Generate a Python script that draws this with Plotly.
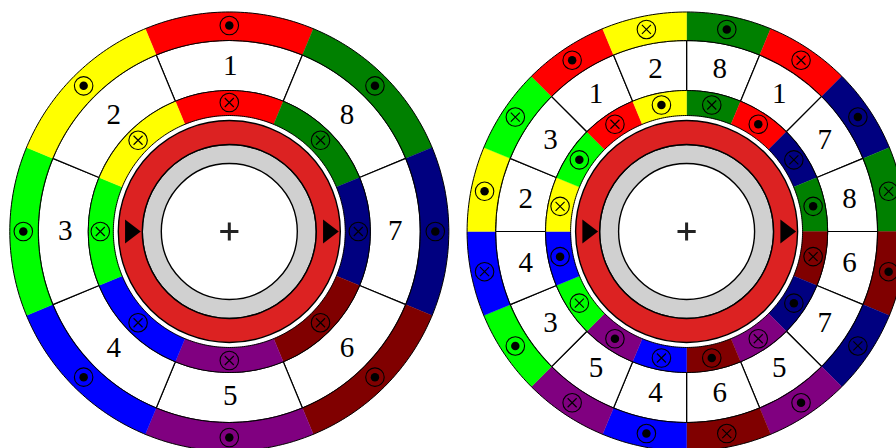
import numpy as np
import plotly.graph_objects as go

COLORS = {"R": "#ff0000", "G": "#008000", "N": "#000080", "M": "#800000",
          "P": "#800080", "B": "#0000ff", "L": "#00ff00", "Y": "#ffff00"}

# clockwise starting at the top
left_labels = ["1", "8", "7", "6", "5", "4", "3", "2"]
left_phases = ["R", "G", "N", "M", "P", "B", "L", "Y"]
left_outer_dirs = ["dot"] * 8
left_inner_dirs = ["x"] * 8

right_labels = ["8", "1", "7", "8", "6", "7", "5", "6", "4", "5", "3", "4", "2", "3", "1", "2"]
right_phases = ["G", "R", "N", "G", "M", "N", "P", "M", "B", "P", "L", "B", "Y", "L", "R", "Y"]
right_outer_dirs = ["dot", "x"] * 8
right_inner_dirs = ["x", "dot"] * 8

W, H = 920, 460
R_MAX = 221
R_OUT, R_SLOT_OUT, R_IN, R_IN_BOT = 219.5, 191, 141, 116
R_ST_OUT, R_ST_IN, R_GR_IN = 111, 87, 68
R_COND_OUT, R_COND_IN, R_LABEL = 206, 129, 165
R_TRI = 99


def wheel(fig, sub, text_sub, labels, phases, outer_dirs, inner_dirs, first_center):
    n = len(labels)
    step = 360 / n
    th = [(first_center - i * step) % 360 for i in range(n)]
    cols = [COLORS[p] for p in phases]
    # rotor and stator rings
    fig.add_trace(go.Barpolar(theta=[0], width=[360], base=[R_GR_IN], r=[R_ST_IN - R_GR_IN],
                              marker=dict(color="#d0d0d0", line=dict(color="black", width=1.4)), subplot=sub))
    fig.add_trace(go.Barpolar(theta=[0], width=[360], base=[R_ST_IN], r=[R_ST_OUT - R_ST_IN],
                              marker=dict(color="#dc2222", line=dict(color="black", width=1.4)), subplot=sub))
    # white slots with spokes
    fig.add_trace(go.Barpolar(theta=th, width=[step] * n, base=[R_IN] * n, r=[R_SLOT_OUT - R_IN] * n,
                              marker=dict(color="white", line=dict(color="black", width=1.2)), subplot=sub))
    # coils
    fig.add_trace(go.Barpolar(theta=th, width=[step] * n, base=[R_SLOT_OUT] * n, r=[R_OUT - R_SLOT_OUT] * n,
                              marker=dict(color=cols, line=dict(color=cols, width=0.3)), subplot=sub))
    fig.add_trace(go.Barpolar(theta=th, width=[step] * n, base=[R_IN_BOT] * n, r=[R_IN - R_IN_BOT] * n,
                              marker=dict(color=cols, line=dict(color=cols, width=0.3)), subplot=sub))
    # outlines
    circ = np.linspace(0, 360, 361)
    for r in (R_OUT, R_SLOT_OUT, R_IN, R_IN_BOT):
        fig.add_trace(go.Scatterpolar(r=[r] * len(circ), theta=circ, mode="lines",
                                      line=dict(color="black", width=1), subplot=sub))
    # conductors
    all_th = th + th
    all_r = [R_COND_OUT] * n + [R_COND_IN] * n
    all_d = list(outer_dirs) + list(inner_dirs)
    fig.add_trace(go.Scatterpolar(r=all_r, theta=all_th, mode="markers", subplot=sub,
                                  marker=dict(symbol="circle-open", size=18.5, color="black", line=dict(color="black", width=1.1))))
    fig.add_trace(go.Scatterpolar(r=[a for a, d in zip(all_r, all_d) if d == "dot"],
                                  theta=[a for a, d in zip(all_th, all_d) if d == "dot"],
                                  mode="markers", subplot=sub,
                                  marker=dict(symbol="circle", size=8.5, color="black", line=dict(width=0))))
    fig.add_trace(go.Scatterpolar(r=[a for a, d in zip(all_r, all_d) if d == "x"],
                                  theta=[a for a, d in zip(all_th, all_d) if d == "x"],
                                  mode="markers", subplot=sub,
                                  marker=dict(symbol="x-thin", size=9, color="black", line=dict(color="black", width=1.15))))
    # slot labels
    fig.add_trace(go.Scatterpolar(r=[R_LABEL] * n, theta=th, mode="text", text=labels, subplot=text_sub,
                                  textposition="middle center",
                                  textfont=dict(family="Liberation Serif", size=29, color="black")))
    # axis arrows and centre mark
    fig.add_trace(go.Scatterpolar(r=[R_TRI, R_TRI], theta=[0, 180], mode="markers", subplot=sub,
                                  marker=dict(symbol="triangle-right", size=21, color="black", line=dict(width=0))))
    fig.add_trace(go.Scatterpolar(r=[0], theta=[0], mode="markers", subplot=sub,
                                  marker=dict(symbol="cross-thin", size=13, color="black", line=dict(color="#222", width=3))))


def polar_layout(cx, cy):
    return dict(
        domain=dict(x=[(cx - R_MAX) / W, (cx + R_MAX) / W],
                    y=[1 - (cy + R_MAX) / H, 1 - (cy - R_MAX) / H]),
        bgcolor="rgba(0,0,0,0)",
        radialaxis=dict(visible=False, range=[0, R_MAX]),
        angularaxis=dict(visible=False),
    )


fig = go.Figure()
wheel(fig, "polar", "polar3", left_labels, left_phases, left_outer_dirs, left_inner_dirs, 90)
wheel(fig, "polar2", "polar4", right_labels, right_phases, right_outer_dirs, right_inner_dirs, 78.75)
fig.update_layout(
    width=W, height=H, margin=dict(l=0, r=0, t=0, b=0), showlegend=False,
    paper_bgcolor="white",
    polar=polar_layout(229.3, 231.5),
    polar2=polar_layout(686.6, 231.5),
    polar3=polar_layout(230.3, 233.0),
    polar4=polar_layout(687.6, 233.0),
)
fig.write_html("out.html", config=dict(displayModeBar=False),
               post_script="document.body.style.margin='0';document.documentElement.style.overflow='hidden';document.body.style.overflow='hidden';")
